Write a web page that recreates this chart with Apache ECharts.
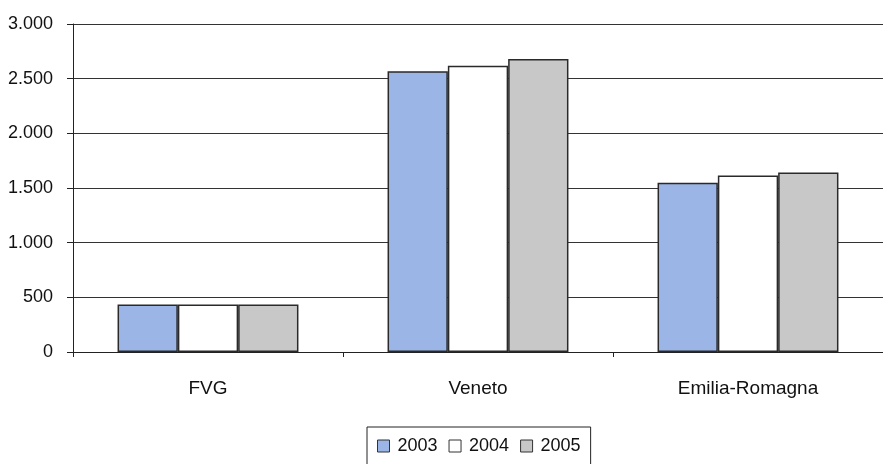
<!DOCTYPE html>
<html><head><meta charset="utf-8">
<script src="https://cdn.jsdelivr.net/npm/echarts@6/dist/echarts.min.js"></script>
<style>html,body{margin:0;padding:0;background:#fff}#c{width:883px;height:464px}</style>
</head><body><div id="c"></div>
<script>
const categories = ['FVG', 'Veneto', 'Emilia-Romagna'];
const years = ['2003', '2004', '2005'];
const v2003 = [435, 2567, 1548];
const v2004 = [435, 2619, 1615];
const v2005 = [435, 2680, 1642];
const yTicks = [0, 500, 1000, 1500, 2000, 2500, 3000];
const colors = ['#9BB5E6', '#FFFFFF', '#C8C8C8'];
const values = [v2003, v2004, v2005];

const chart = echarts.init(document.getElementById('c'));
const fmt = v => String(v).replace(/\B(?=(\d{3})+(?!\d))/g, '.');
chart.setOption({
  animation: false,
  textStyle: {fontFamily: 'Liberation Sans, Arial, sans-serif'},
  grid: {left: 73, width: 816, top: 24, bottom: 112, containLabel: false},
  legend: {
    data: years, top: 427, left: 367,
    itemWidth: 12, itemHeight: 12, itemGap: 11,
    borderColor: '#222', borderWidth: 1, padding: [10, 10, 10, 10],
    textStyle: {fontSize: 18, color: '#111', padding: [0, 0, 0, 3]},
    itemStyle: {borderColor: '#333', borderWidth: 1},
    icon: 'rect'
  },
  xAxis: {
    type: 'category', data: categories,
    axisLine: {lineStyle: {color: '#222', width: 1}},
    axisTick: {show: true, alignWithLabel: false, length: 5, lineStyle: {color: '#222'}},
    axisLabel: {fontSize: 19, color: '#111', margin: 27}
  },
  yAxis: {
    type: 'value', min: yTicks[0], max: yTicks[yTicks.length - 1], interval: 500,
    axisLine: {show: true, lineStyle: {color: '#222', width: 1}},
    axisTick: {show: true, length: 6, lineStyle: {color: '#222'}},
    splitLine: {lineStyle: {color: '#333', width: 1}},
    axisLabel: {fontSize: 18, color: '#111', margin: 20, formatter: fmt}
  },
  series: years.map((y, i) => ({
    name: y, type: 'bar', data: values[i],
    barGap: '0%', barCategoryGap: '33%',
    itemStyle: {color: colors[i], borderColor: '#2a2a2a', borderWidth: 1.5}
  }))
});
</script></body></html>
